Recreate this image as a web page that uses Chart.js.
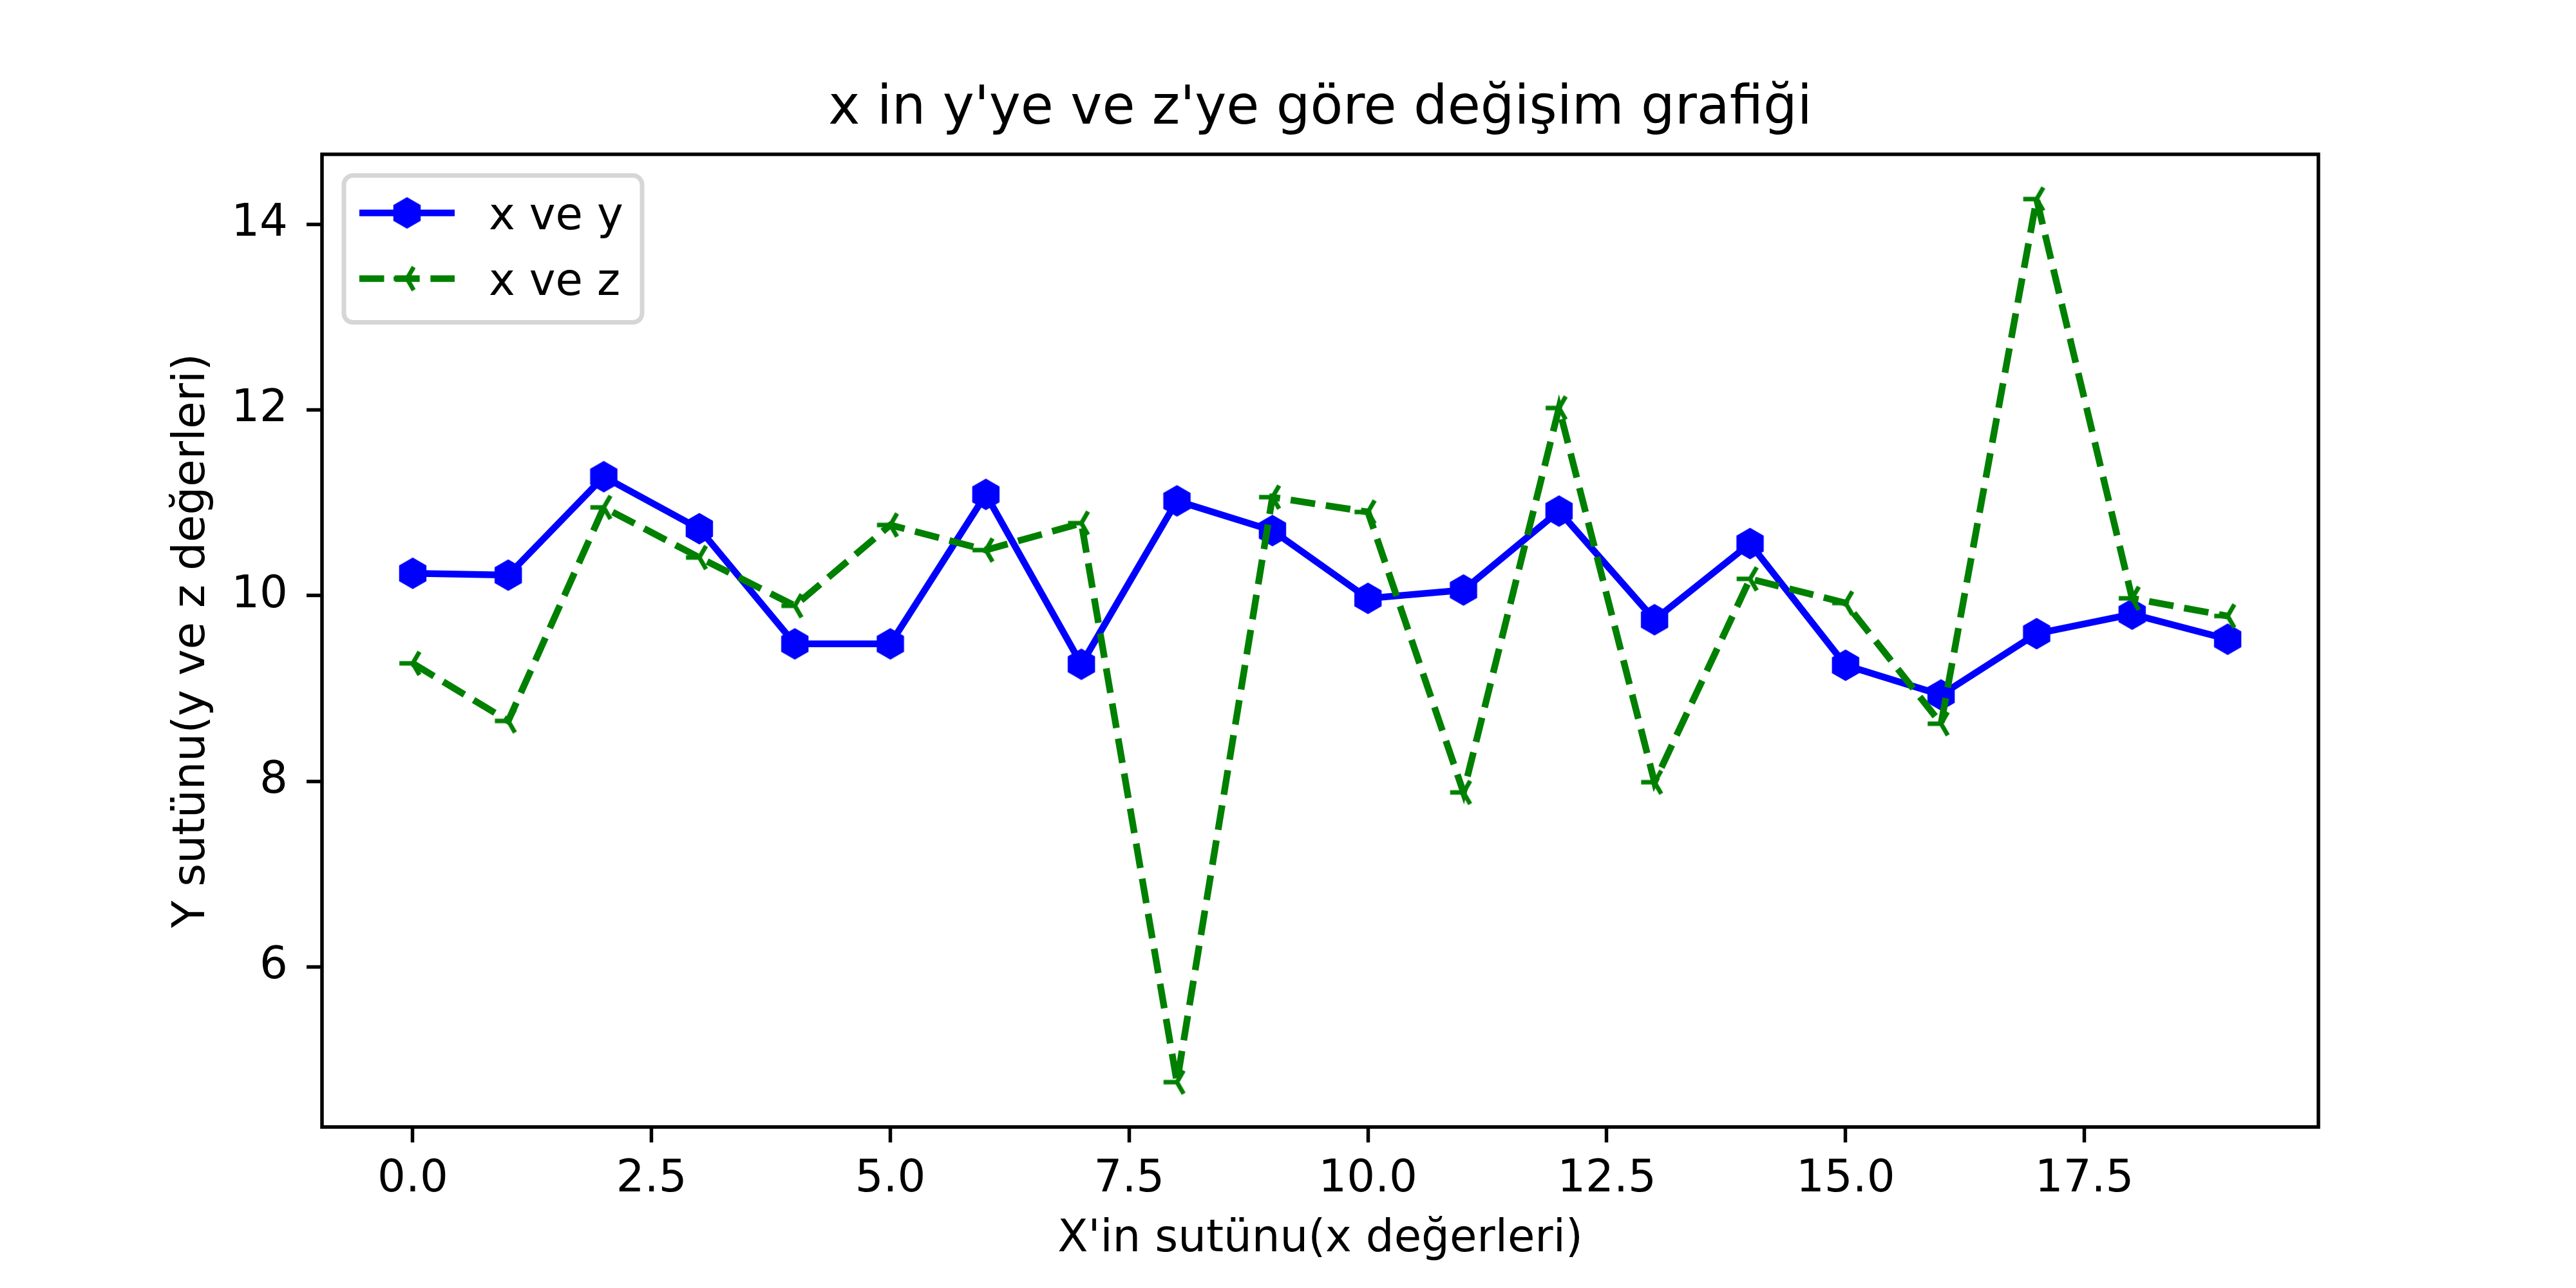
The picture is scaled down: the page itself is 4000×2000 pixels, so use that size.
<!DOCTYPE html>
<html>
<head>
<meta charset="utf-8">
<script src="https://cdn.jsdelivr.net/npm/chart.js@4.4.1/dist/chart.umd.min.js"></script>
<style>
  html, body { margin: 0; padding: 0; background: #fff; }
  #kutu { width: 4000px; height: 2000px; }
</style>
</head>
<body>
<div id="kutu"><canvas id="grafik" width="4000" height="2000"></canvas></div>
<script>
// Grafik verileri
const xDegerleri = [0, 1, 2, 3, 4, 5, 6, 7, 8, 9, 10, 11, 12, 13, 14, 15, 16, 17, 18, 19];
const yDegerleri = [10.24, 10.22, 11.28, 10.72, 9.48, 9.48, 11.09, 9.26, 11.02, 10.70,
                    9.97, 10.06, 10.91, 9.74, 10.56, 9.25, 8.93, 9.59, 9.80, 9.53];
const zDegerleri = [9.27, 8.65, 10.95, 10.41, 9.89, 10.76, 10.49, 10.78, 4.76, 11.06,
                    10.90, 7.88, 12.02, 7.99, 10.18, 9.92, 8.62, 14.27, 9.97, 9.78];
const xTikler = [0, 2.5, 5, 7.5, 10, 12.5, 15, 17.5];
const yTikler = [6, 8, 10, 12, 14];
const seriAdlari = ['x ve y', 'x ve z'];

const yaziTipi = "'DejaVu Sans', sans-serif";
const MAVI = '#0000ff';
const YESIL = '#008000';

// Altıgen işaretçi (matplotlib 'h')
function altigenYap() {
    const c = document.createElement('canvas');
    c.width = 54; c.height = 54;
    const g = c.getContext('2d');
    g.beginPath();
    for (let k = 0; k < 6; k++) {
        const a = -Math.PI / 2 + k * Math.PI / 3;
        const px = 27 + 24.5 * Math.cos(a), py = 27 + 24.5 * Math.sin(a);
        if (k === 0) g.moveTo(px, py); else g.lineTo(px, py);
    }
    g.closePath();
    g.fillStyle = MAVI;
    g.fill();
    return c;
}

// Sola bakan üç kollu işaretçi (matplotlib '3')
function ucKolYap() {
    const c = document.createElement('canvas');
    c.width = 50; c.height = 50;
    const g = c.getContext('2d');
    const r = 20.8;
    g.strokeStyle = YESIL;
    g.lineWidth = 6.9;
    g.beginPath();
    g.moveTo(25, 25); g.lineTo(25 - r, 25);
    g.moveTo(25, 25); g.lineTo(25 + r * 0.5, 25 - r * 0.866);
    g.moveTo(25, 25); g.lineTo(25 + r * 0.5, 25 + r * 0.866);
    g.stroke();
    return c;
}

const altigen = altigenYap();
const ucKol = ucKolYap();

// Eksen çerçevesi
const cerceve = {
    id: 'cerceve',
    afterDatasetsDraw(chart) {
        const { ctx, chartArea: a } = chart;
        ctx.save();
        ctx.strokeStyle = '#000';
        ctx.lineWidth = 5.5;
        ctx.strokeRect(a.left, a.top, a.right - a.left, a.bottom - a.top);
        ctx.restore();
    }
};

// matplotlib tarzı lejant
const lejant = {
    id: 'lejant',
    afterDraw(chart) {
        const { ctx, chartArea: a } = chart;
        const x0 = a.left + 34, y0 = a.top + 33;
        const w = 463, h = 228, r = 14;
        ctx.save();
        ctx.beginPath();
        ctx.roundRect(x0, y0, w, h, r);
        ctx.fillStyle = 'rgba(255,255,255,0.8)';
        ctx.fill();
        ctx.lineWidth = 7;
        ctx.strokeStyle = '#d6d6d6';
        ctx.stroke();

        const satirlar = [
            { y: y0 + 58, renk: MAVI, kesik: [], resim: altigen },
            { y: y0 + 160, renk: YESIL, kesik: [38.5, 16.7], resim: ucKol }
        ];
        satirlar.forEach((s, i) => {
            ctx.beginPath();
            ctx.setLineDash(s.kesik);
            ctx.strokeStyle = s.renk;
            ctx.lineWidth = 10.4;
            ctx.moveTo(x0 + 24, s.y);
            ctx.lineTo(x0 + 172, s.y);
            ctx.stroke();
            ctx.setLineDash([]);
            ctx.drawImage(s.resim, x0 + 98 - s.resim.width / 2, s.y - s.resim.height / 2);
            ctx.fillStyle = '#000';
            ctx.font = '69px ' + yaziTipi;
            ctx.textBaseline = 'alphabetic';
            ctx.fillText(seriAdlari[i], x0 + 225, s.y + 25);
        });
        ctx.restore();
    }
};

const ctx = document.getElementById('grafik').getContext('2d');
new Chart(ctx, {
    type: 'line',
    data: {
        datasets: [
            {
                label: seriAdlari[0],
                data: xDegerleri.map((x, i) => ({ x: x, y: yDegerleri[i] })),
                borderColor: MAVI,
                borderWidth: 10.4,
                pointStyle: altigen,
                pointRadius: 26,
                tension: 0,
                fill: false,
                order: 1
            },
            {
                label: seriAdlari[1],
                data: xDegerleri.map((x, i) => ({ x: x, y: zDegerleri[i] })),
                borderColor: YESIL,
                borderWidth: 10.4,
                borderDash: [38.5, 16.7],
                pointStyle: ucKol,
                pointRadius: 25,
                tension: 0,
                fill: false,
                order: 0
            }
        ]
    },
    options: {
        responsive: false,
        animation: false,
        events: [],
        layout: { padding: { top: 0, left: 0, right: 400, bottom: 0 } },
        plugins: {
            legend: { display: false },
            tooltip: { enabled: false },
            title: {
                display: true,
                fullSize: false,
                text: "x in y'ye ve z'ye göre değişim grafiği",
                color: '#000',
                font: { family: yaziTipi, size: 83, weight: 'normal' },
                padding: { top: 121, bottom: 19 }
            }
        },
        scales: {
            x: {
                type: 'linear',
                min: -0.95,
                max: 19.95,
                afterBuildTicks: s => { s.ticks = xTikler.map(v => ({ value: v })); },
                afterFit: s => { s.height = 250; },
                ticks: {
                    callback: v => Number(v).toFixed(1),
                    color: '#000',
                    font: { family: yaziTipi, size: 69 },
                    padding: 17,
                    maxRotation: 0,
                    autoSkip: false
                },
                grid: { drawOnChartArea: false, drawTicks: true, tickLength: 24, tickWidth: 5.5, tickColor: '#000' },
                border: { display: false },
                title: {
                    display: true,
                    text: "X'in sutünu(x değerleri)",
                    color: '#000',
                    font: { family: yaziTipi, size: 69 },
                    padding: { top: 0, bottom: 34 }
                }
            },
            y: {
                type: 'linear',
                min: 4.277,
                max: 14.752,
                afterBuildTicks: s => { s.ticks = yTikler.map(v => ({ value: v })); },
                afterFit: s => { s.width = 500; },
                ticks: {
                    callback: v => String(v),
                    color: '#000',
                    font: { family: yaziTipi, size: 69 },
                    padding: 29,
                    autoSkip: false
                },
                grid: { drawOnChartArea: false, drawTicks: true, tickLength: 24, tickWidth: 5.5, tickColor: '#000' },
                border: { display: false },
                title: {
                    display: true,
                    text: 'Y sutünu(y ve z değerleri)',
                    color: '#000',
                    font: { family: yaziTipi, size: 69 },
                    padding: { top: 258, bottom: 0 }
                }
            }
        }
    },
    plugins: [cerceve, lejant]
});
</script>
</body>
</html>
